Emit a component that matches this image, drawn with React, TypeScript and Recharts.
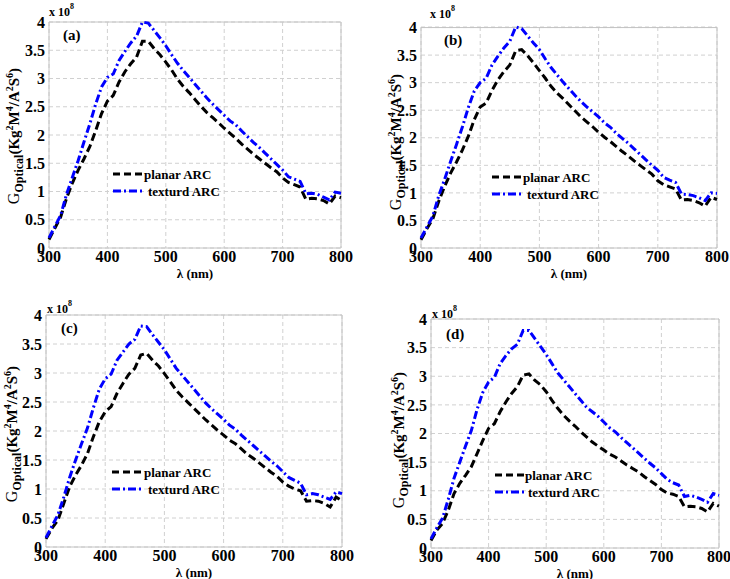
import React from 'react';
import { LineChart, Line, XAxis, YAxis, CartesianGrid, ReferenceArea, Legend } from 'recharts';

const wavelengths = [300, 310, 320, 330, 340, 350, 360, 370, 380, 390, 400, 410, 420, 430, 440, 450, 460, 470, 480, 490, 500, 510, 520, 530, 540, 550, 560, 570, 580, 590, 600, 610, 620, 630, 640, 650, 660, 670, 680, 690, 700, 710, 720, 730, 740, 750, 760, 770, 780, 790, 800];

const planarA = [0.15, 0.35, 0.55, 0.88, 1.15, 1.38, 1.58, 1.8, 2.08, 2.38, 2.6, 2.7, 2.94, 3.12, 3.26, 3.38, 3.66, 3.66, 3.53, 3.42, 3.29, 3.15, 2.99, 2.86, 2.75, 2.63, 2.51, 2.4, 2.31, 2.22, 2.12, 2.03, 1.94, 1.84, 1.75, 1.66, 1.58, 1.5, 1.42, 1.35, 1.24, 1.16, 1.12, 1.08, 0.86, 0.88, 0.87, 0.84, 0.78, 0.92, 0.89];
const texturedA = [0.18, 0.38, 0.58, 0.95, 1.25, 1.55, 1.88, 2.2, 2.55, 2.85, 3.02, 3.08, 3.32, 3.48, 3.63, 3.75, 4.0, 3.98, 3.85, 3.72, 3.58, 3.42, 3.27, 3.14, 3.02, 2.9, 2.78, 2.66, 2.55, 2.45, 2.35, 2.25, 2.18, 2.07, 1.97, 1.87, 1.78, 1.68, 1.58, 1.48, 1.38, 1.26, 1.22, 1.18, 0.96, 0.97, 0.95, 0.9, 0.85, 0.99, 0.97];

const planarB = [0.15, 0.35, 0.53, 0.85, 1.12, 1.36, 1.56, 1.78, 2.03, 2.33, 2.56, 2.63, 2.86, 3.05, 3.2, 3.32, 3.58, 3.6, 3.49, 3.36, 3.22, 3.08, 2.93, 2.81, 2.71, 2.6, 2.49, 2.38, 2.29, 2.2, 2.1, 2.01, 1.93, 1.84, 1.75, 1.67, 1.58, 1.5, 1.42, 1.34, 1.22, 1.15, 1.11, 1.07, 0.87, 0.88, 0.86, 0.82, 0.76, 0.92, 0.88];
const texturedB = [0.18, 0.38, 0.58, 0.95, 1.25, 1.57, 1.88, 2.2, 2.55, 2.85, 3.0, 3.08, 3.32, 3.48, 3.63, 3.75, 4.01, 3.98, 3.85, 3.72, 3.6, 3.43, 3.27, 3.14, 3.01, 2.89, 2.77, 2.66, 2.56, 2.47, 2.38, 2.27, 2.19, 2.08, 1.99, 1.9, 1.8, 1.7, 1.6, 1.5, 1.41, 1.28, 1.23, 1.19, 0.98, 0.97, 0.95, 0.91, 0.86, 1.0, 0.99];

const planarC = [0.14, 0.32, 0.46, 0.75, 1.04, 1.24, 1.41, 1.61, 1.9, 2.16, 2.33, 2.42, 2.65, 2.82, 2.98, 3.08, 3.31, 3.34, 3.22, 3.12, 2.99, 2.85, 2.7, 2.59, 2.49, 2.39, 2.29, 2.19, 2.1, 2.01, 1.93, 1.84, 1.78, 1.69, 1.6, 1.53, 1.45, 1.37, 1.29, 1.22, 1.12, 1.05, 1.0, 0.97, 0.79, 0.8, 0.79, 0.75, 0.69, 0.86, 0.8];
const texturedC = [0.16, 0.36, 0.55, 0.86, 1.2, 1.5, 1.78, 2.05, 2.4, 2.72, 2.9, 2.98, 3.22, 3.36, 3.5, 3.58, 3.81, 3.8, 3.66, 3.53, 3.4, 3.24, 3.08, 2.96, 2.84, 2.72, 2.6, 2.48, 2.38, 2.29, 2.2, 2.1, 2.03, 1.93, 1.84, 1.75, 1.66, 1.57, 1.48, 1.4, 1.3, 1.2, 1.15, 1.1, 0.9, 0.92, 0.9, 0.86, 0.82, 0.95, 0.92];

const planarD = [0.13, 0.31, 0.43, 0.66, 0.95, 1.13, 1.27, 1.42, 1.65, 1.88, 2.09, 2.17, 2.38, 2.55, 2.7, 2.82, 3.02, 3.04, 2.93, 2.85, 2.73, 2.58, 2.44, 2.32, 2.22, 2.13, 2.03, 1.94, 1.85, 1.78, 1.71, 1.64, 1.59, 1.52, 1.45, 1.39, 1.33, 1.25, 1.18, 1.11, 1.02, 0.96, 0.94, 0.9, 0.72, 0.73, 0.72, 0.69, 0.63, 0.78, 0.73];
const texturedD = [0.16, 0.35, 0.52, 0.85, 1.22, 1.5, 1.78, 2.05, 2.42, 2.72, 2.9, 2.98, 3.22, 3.36, 3.48, 3.56, 3.8, 3.8, 3.66, 3.52, 3.38, 3.22, 3.06, 2.94, 2.82, 2.7, 2.58, 2.46, 2.38, 2.3, 2.2, 2.1, 2.03, 1.93, 1.84, 1.75, 1.66, 1.57, 1.48, 1.4, 1.3, 1.2, 1.14, 1.1, 0.9, 0.92, 0.89, 0.85, 0.8, 0.95, 0.92];

const xTicks = [300, 400, 500, 600, 700, 800];
const yTicks = [0, 0.5, 1, 1.5, 2, 2.5, 3, 3.5, 4];
const seriesNames = ['planar ARC', 'texturd ARC'];
const panelTags = ['(a)', '(b)', '(c)', '(d)'];

const FONT = '"Liberation Serif", "Times New Roman", serif';

type Panel = {
  tag: string;
  planar: number[];
  textured: number[];
  left: number; top: number; w: number; h: number;
  plotL: number; plotT: number; plotR: number; plotB: number;
  ylx: number; yly: number;
  legX: number; legY: number; legTextX: number; legText2X: number;
  tagX: number; tagY: number;
  multX: number; multY: number;
};

const panels: Panel[] = [
  { tag: panelTags[0], planar: planarA, textured: texturedA, left: 0, top: 0, w: 365, h: 290,
    plotL: 49, plotT: 22, plotR: 341, plotB: 248, ylx: 19, yly: 136,
    legX: 113, legY: 174, legTextX: 144, legText2X: 148, tagX: 63, tagY: 40, multX: 49, multY: 16 },
  { tag: panelTags[1], planar: planarB, textured: texturedB, left: 365, top: 0, w: 365, h: 290,
    plotL: 56, plotT: 27, plotR: 352, plotB: 248, ylx: 36, yly: 142,
    legX: 127, legY: 177, legTextX: 158, legText2X: 162, tagX: 79, tagY: 45, multX: 65, multY: 18 },
  { tag: panelTags[2], planar: planarC, textured: texturedC, left: 0, top: 290, w: 365, h: 289,
    plotL: 46, plotT: 25, plotR: 342, plotB: 257, ylx: 17, yly: 144,
    legX: 112, legY: 182, legTextX: 144, legText2X: 148, tagX: 61, tagY: 43, multX: 47, multY: 23 },
  { tag: panelTags[3], planar: planarD, textured: texturedD, left: 365, top: 290, w: 365, h: 289,
    plotL: 66, plotT: 29, plotR: 354, plotB: 258, ylx: 39, yly: 150,
    legX: 130, legY: 185, legTextX: 160, legText2X: 163, tagX: 81, tagY: 49, multX: 67, multY: 28 },
];

function YLabel({ cx, cy }: { cx: number; cy: number }) {
  return (
    <text x={cx} y={cy} transform={`rotate(-90 ${cx} ${cy})`} textAnchor="middle" fontFamily={FONT} fill="#000">
      <tspan fontSize={16}>G</tspan>
      <tspan fontSize={12} fontWeight="bold" dy={4}>Optical</tspan>
      <tspan fontSize={15} fontWeight="bold" dy={-4}>(Kg</tspan>
      <tspan fontSize={10} fontWeight="bold" dy={-6}>2</tspan>
      <tspan fontSize={15} fontWeight="bold" dy={6}>M</tspan>
      <tspan fontSize={10} fontWeight="bold" dy={-6}>4</tspan>
      <tspan fontSize={15} fontWeight="bold" dy={6}>/A</tspan>
      <tspan fontSize={10} fontWeight="bold" dy={-6}>2</tspan>
      <tspan fontSize={15} fontWeight="bold" dy={6}>S</tspan>
      <tspan fontSize={10} fontWeight="bold" dy={-6}>6</tspan>
      <tspan fontSize={15} fontWeight="bold" dy={6}>)</tspan>
    </text>
  );
}

function XLabel({ cx, cy }: { cx: number; cy: number }) {
  return (
    <text x={cx} y={cy} textAnchor="middle" fontFamily={FONT} fontWeight="bold" fontSize={13} fill="#000">
      λ (nm)
    </text>
  );
}

function Overlay({ p }: { p: Panel }) {
  return (
    <svg width={p.w} height={p.h} style={{ position: 'absolute', left: 0, top: 0, overflow: 'visible' }}>
      <text x={p.multX} y={p.multY} fontFamily={FONT} fontWeight="bold" fontSize={12} fill="#000">
        x 10<tspan fontSize={8} dy={-7}>8</tspan>
      </text>
      <text x={p.tagX} y={p.tagY} fontFamily={FONT} fontWeight="bold" fontSize={15} fill="#000">{p.tag}</text>
      <line x1={p.legX} x2={p.legX + 29} y1={p.legY} y2={p.legY} stroke="#000" strokeWidth={3} strokeDasharray="7 4" />
      <text x={p.legTextX} y={p.legY + 4.5} fontFamily={FONT} fontWeight="bold" fontSize={13} fill="#000">{seriesNames[0]}</text>
      <line x1={p.legX} x2={p.legX + 29} y1={p.legY + 17} y2={p.legY + 17} stroke="#0000ff" strokeWidth={3} strokeDasharray="8 3 2 3" />
      <text x={p.legText2X} y={p.legY + 21.5} fontFamily={FONT} fontWeight="bold" fontSize={13} fill="#000">{seriesNames[1]}</text>
    </svg>
  );
}

function PanelChart({ p }: { p: Panel }) {
  const data = wavelengths.map((x, i) => ({ x, planar: p.planar[i], textured: p.textured[i] }));
  const xh = 30;
  const mb = p.h - p.plotB - xh;
  const tick = { fontFamily: FONT, fontWeight: 'bold', fontSize: 16, fill: '#000' };
  const cxLabel = (p.plotL + p.plotR) / 2;
  return (
    <div style={{ position: 'absolute', left: p.left, top: p.top, width: p.w, height: p.h }}>
      <LineChart width={p.w} height={p.h} data={data}
        margin={{ top: p.plotT, right: p.w - p.plotR, bottom: mb, left: 0 }}>
        <CartesianGrid stroke="#d0d0d0" strokeDasharray="4 3" />
        <ReferenceArea x1={300} x2={800} y1={0} y2={4} fill="none" stroke="#c4c4c4" strokeWidth={1} />
        <XAxis dataKey="x" type="number" domain={[300, 800]} ticks={xTicks} interval={0}
          axisLine={false} tickLine={false} tickSize={0} tickMargin={3} height={xh} tick={tick}
          label={<XLabel cx={cxLabel} cy={p.plotB + 29.5} />} />
        <YAxis type="number" domain={[0, 4]} ticks={yTicks} interval={0} width={p.plotL}
          axisLine={false} tickLine={false} tickSize={0} tickMargin={4} tick={tick}
          label={<YLabel cx={p.ylx} cy={p.yly} />} />
        <Line type="linear" dataKey="planar" stroke="#000" strokeWidth={3} strokeDasharray="8 4"
          dot={false} activeDot={false} isAnimationActive={false} />
        <Line type="linear" dataKey="textured" stroke="#0000ff" strokeWidth={3} strokeDasharray="8 3 2 3"
          dot={false} activeDot={false} isAnimationActive={false} />
        <Legend layout="vertical" align="center" verticalAlign="middle"
          wrapperStyle={{ left: 0, top: 0, width: p.w, height: p.h, pointerEvents: 'none' }}
          content={() => <Overlay p={p} />} />
      </LineChart>
    </div>
  );
}

export default function App() {
  return (
    <div style={{ position: 'absolute', left: 0, top: 0, width: 730, height: 579, background: '#fff' }}>
      {panels.map((p) => <PanelChart key={p.tag} p={p} />)}
    </div>
  );
}
